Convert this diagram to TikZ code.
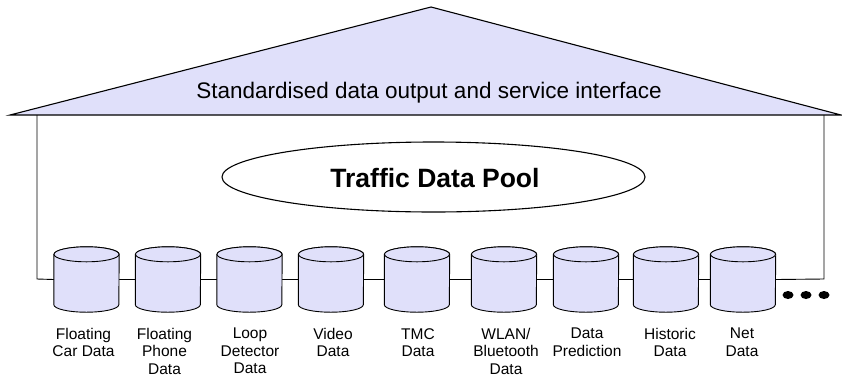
\documentclass[tikz,border=0pt]{standalone}
\usepackage{fontspec}
\setmainfont{Liberation Sans}
\usetikzlibrary{shapes.geometric,calc}
\definecolor{lavender}{RGB}{224,224,250}
\tikzset{
  roof/.style={draw=black, line width=1.1pt, fill=lavender, line join=miter},
  wall/.style={draw=black, line width=0.9pt},
  pool/.style={ellipse, draw=black, line width=1.1pt, minimum width=423pt, minimum height=70pt, inner sep=0pt},
  pooltitle/.style={inner sep=0pt, font=\fontsize{26.5}{30}\selectfont\bfseries},
  dbbox/.style={rectangle, minimum width=65pt, minimum height=65pt, inner sep=0pt},
  dbskin/.style={draw=black, line width=0.9pt, fill=lavender},
  dblabel/.style={anchor=north, align=center, inner sep=0pt, font=\fontsize{15.5}{17.5}\selectfont},
  dot/.style={fill=black}
}
\begin{document}
\begin{tikzpicture}[x=1pt,y=1pt]
  \useasboundingbox (0,0) rectangle (842,-381);

  % roof with the interface label
  \coordinate (apex) at (431,-7);
  \coordinate (eaveL) at (10,-115);
  \coordinate (eaveR) at (841,-115);
  \draw[roof] (eaveL) -- (apex) -- (eaveR) -- cycle;
  \node[font=\fontsize{22.5}{25}\selectfont, inner sep=0pt] (iface) at (429,-93)
    {Standardised data output and service interface};

  % walls
  \coordinate (wallLT) at (37,-115);
  \coordinate (wallLB) at (37,-279);
  \coordinate (wallRT) at (824,-115);
  \coordinate (wallRB) at (824,-279);

  % central pool
  \node[pool] (pool) at (433.5,-177) {};
  \node[pooltitle] (pooltext) at (435,-178) {Traffic Data Pool};

  % database nodes
  \foreach \n/\x in {1/86.5,2/168,3/249.5,4/331,5/417,6/504,7/586,8/666,9/743}{
    \node[dbbox] (c\n) at (\x,-279.5) {};
  }

  % connectors along the base
  \draw[wall] (wallLT) -- (wallLB) -- (c1.west);
  \foreach \a/\b in {1/2,2/3,3/4,4/5,5/6,6/7,7/8,8/9}{
    \draw[wall] (c\a.east) -- (c\b.west);
  }
  \draw[wall] (c9.east) -- (wallRB) -- (wallRT);

  % cylinder bodies
  \foreach \n in {1,...,9}{
    \draw[dbskin] ($(c\n.north west)+(0,-7.5)$) -- ($(c\n.south west)+(0,7.5)$)
      arc[start angle=180, end angle=360, x radius=32.5, y radius=7.5]
      -- ($(c\n.north east)+(0,-7.5)$)
      arc[start angle=0, end angle=180, x radius=32.5, y radius=7.5] -- cycle;
    \draw[dbskin] ($(c\n.north)+(0,-7.5)$) ellipse[x radius=32.5, y radius=7.5];
  }

  % continuation dots
  \fill[dot] (788,-295) ellipse[x radius=5.5, y radius=4];
  \fill[dot] (806,-295) ellipse[x radius=5.5, y radius=4];
  \fill[dot] (824,-295) ellipse[x radius=5.5, y radius=4];

  % labels
  \node[dblabel] (l1) at (83.5,-328) {Floating\\Car Data};
  \node[dblabel] (l2) at (164.5,-328) {Floating\\Phone\\Data};
  \node[dblabel] (l3) at (250,-328) {Loop\\Detector\\Data};
  \node[dblabel] (l4) at (333,-328) {Video\\Data};
  \node[dblabel] (l5) at (418,-328) {TMC\\Data};
  \node[dblabel] (l6) at (506,-328) {WLAN/\\Bluetooth\\Data};
  \node[dblabel] (l7) at (587,-328) {Data\\Prediction};
  \node[dblabel] (l8) at (670,-328) {Historic\\Data};
  \node[dblabel] (l9) at (742,-328) {Net\\Data};
\end{tikzpicture}
\end{document}
